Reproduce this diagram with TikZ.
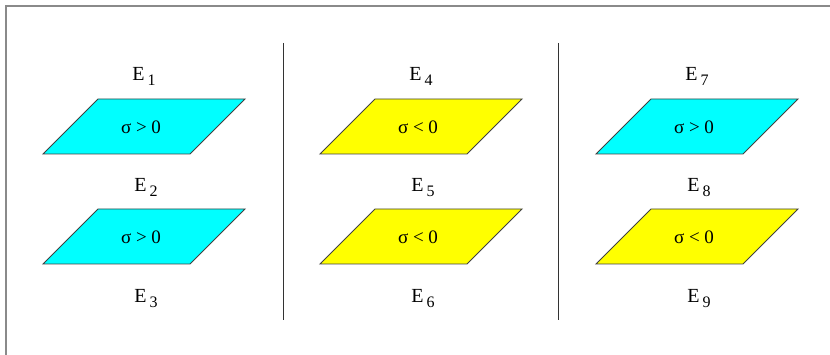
\documentclass[tikz,border=0pt]{standalone}
\usepackage{fontspec}
\setmainfont{Liberation Serif}
\usepackage{tikz}
\definecolor{planecyan}{HTML}{00FFFF}
\definecolor{planeyellow}{HTML}{FFFF00}
\definecolor{framegray}{HTML}{8A8A8A}
\newcommand{\elab}[1]{E\kern3pt\raisebox{-5pt}{\fontsize{16}{16}\selectfont #1}}

\begin{document}
\begin{tikzpicture}[x=1pt,y=-1pt,
  plane/.style={draw=black!75,line width=0.9pt},
  lab/.style={font=\fontsize{20}{20}\selectfont,anchor=base,inner sep=0pt},
  sig/.style={font=\fontsize{19}{19}\selectfont,inner sep=0pt}]
\useasboundingbox (0,0) rectangle (830,355);
\draw[framegray,line width=1.2pt] (6,360) -- (6,6) -- (836,6);
% three columns of planes
\foreach \x/\fa/\sa/\fb/\sb [count=\i] in {43/planecyan/>/planecyan/>,
    320/planeyellow/</planeyellow/<, 596/planecyan/>/planeyellow/<}{
  \pgfmathtruncatemacro{\na}{3*\i-2}
  \pgfmathtruncatemacro{\nb}{3*\i-1}
  \pgfmathtruncatemacro{\nc}{3*\i}
  \pgfmathtruncatemacro{\sna}{2*\i-1}
  \pgfmathtruncatemacro{\snb}{2*\i}
  \filldraw[plane,fill=\fa] (\x,154) -- (\x+147,154) -- (\x+202,99) -- (\x+55,99) -- cycle;
  \filldraw[plane,fill=\fb] (\x,264) -- (\x+147,264) -- (\x+202,209) -- (\x+55,209) -- cycle;
  \node[sig] (s\sna) at (\x+98,127) {σ \sa{} 0};
  \node[sig] (s\snb) at (\x+98,237) {σ \sb{} 0};
  \node[lab] (e\na) at (\x+101,81) {\elab{\na}};
  \node[lab] (e\nb) at (\x+103,192) {\elab{\nb}};
  \node[lab] (e\nc) at (\x+103,303) {\elab{\nc}};
}
% separators
\coordinate (sepa) at (283,43);
\coordinate (sepb) at (558,43);
\draw[black!80,line width=0.8pt] (sepa) -- ++(0,277);
\draw[black!80,line width=0.8pt] (sepb) -- ++(0,277);
\end{tikzpicture}
\end{document}
